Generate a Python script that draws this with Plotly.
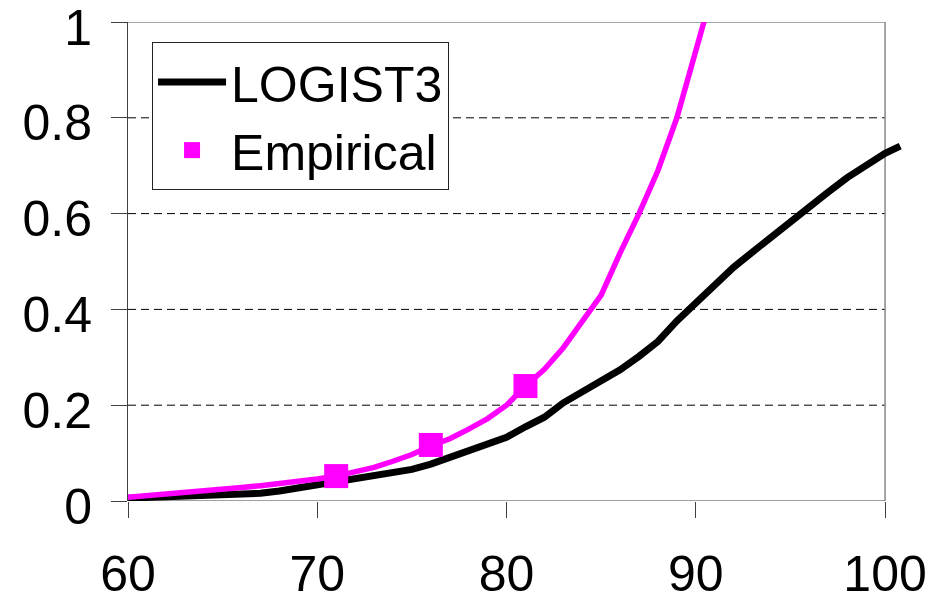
import plotly.graph_objects as go

# ---- data ----
age = [60, 61, 62, 63, 64, 65, 66, 67, 68, 69, 70, 71, 72, 73, 74, 75, 76, 77, 78, 79,
       80, 81, 82, 83, 84, 85, 86, 87, 88, 89, 90, 91, 92, 93, 94, 95, 96, 97, 98, 99,
       100, 100.8]
logist3 = [0.006, 0.007, 0.008, 0.010, 0.012, 0.013, 0.014, 0.016, 0.021, 0.027,
           0.033, 0.040, 0.046, 0.051, 0.058, 0.066, 0.077, 0.091, 0.104, 0.118,
           0.133, 0.155, 0.175, 0.205, 0.228, 0.250, 0.274, 0.302, 0.333, 0.376,
           0.415, 0.452, 0.488, 0.520, 0.552, 0.580, 0.612, 0.645, 0.675, 0.700,
           0.726, 0.741]

emp_curve_age = [60, 61, 62, 63, 64, 65, 66, 67, 68, 69, 70, 71, 72, 73, 74, 75, 76,
                 77, 78, 79, 80, 81, 82, 83, 84, 85, 86, 87, 88, 89, 90, 91]
emp_curve = [0.008, 0.011, 0.014, 0.018, 0.021, 0.025, 0.028, 0.032, 0.036, 0.041,
             0.046, 0.052, 0.060, 0.070, 0.083, 0.097, 0.115, 0.130, 0.150, 0.172,
             0.200, 0.240, 0.275, 0.320, 0.375, 0.430, 0.518, 0.600, 0.690, 0.800,
             0.940, 1.080]

emp_age = [71, 76, 81]
emp_val = [0.052, 0.117, 0.240]

x_ticks = [60, 70, 80, 90, 100]
y_ticks = [0, 0.2, 0.4, 0.6, 0.8, 1]
y_tick_text = ["0", "0.2", "0.4", "0.6", "0.8", "1"]
grid_levels = [0.2, 0.4, 0.6, 0.8]

FONT = "Liberation Sans, Arial, sans-serif"
MAGENTA = "#FF00FF"
FS = 50

fig = go.Figure()

fig.add_trace(go.Scatter(
    x=age, y=logist3, mode="lines", name="LOGIST3",
    line=dict(color="black", width=7), showlegend=True,
))
fig.add_trace(go.Scatter(
    x=emp_curve_age, y=emp_curve, mode="lines", name="fit",
    line=dict(color=MAGENTA, width=5.5), showlegend=False,
))
fig.add_trace(go.Scatter(
    x=emp_age, y=emp_val, mode="markers", name="Empirical",
    marker=dict(color=MAGENTA, size=24, symbol="square", line=dict(width=0)),
    showlegend=True,
))

shapes = []
for g in grid_levels:
    shapes.append(dict(type="line", xref="x", yref="y", x0=60, x1=100, y0=g, y1=g,
                       line=dict(color="#000000", width=1, dash="8px,5px"), layer="below"))
# plot frame: top & right grey, bottom dark
shapes.append(dict(type="line", xref="x", yref="y", x0=60, x1=100, y0=1, y1=1,
                   line=dict(color="#888888", width=1.5), layer="below"))
shapes.append(dict(type="line", xref="x", yref="y", x0=100, x1=100, y0=0, y1=1,
                   line=dict(color="#888888", width=1.5), layer="below"))
shapes.append(dict(type="line", xref="x", yref="y", x0=60, x1=100, y0=0, y1=0,
                   line=dict(color="#404040", width=1), layer="below"))

# the page body has an 8px default margin; size the figure so the plot area
# lands where it is in the reference
fig.update_layout(
    width=941, height=598,
    margin=dict(l=120, r=45, t=14, b=105, autoexpand=False),
    paper_bgcolor="white", plot_bgcolor="white",
    font=dict(family=FONT, size=FS, color="black"),
    shapes=shapes,
    legend=dict(
        x=0.031, y=0.958, xanchor="left", yanchor="top",
        bgcolor="white", bordercolor="#222222", borderwidth=1,
        font=dict(family=FONT, size=FS, color="black"),
        itemsizing="trace", itemwidth=68,
    ),
    xaxis=dict(
        range=[60, 101], tickvals=x_ticks, ticktext=[str(v) for v in x_ticks],
        showgrid=False, zeroline=False, showline=False, automargin=False,
        ticks="outside", ticklen=16, tickcolor="#404040", tickwidth=1,
        ticklabelstandoff=13, ticklabeloverflow="allow",
        tickfont=dict(family=FONT, size=FS, color="black"),
    ),
    yaxis=dict(
        range=[0, 1], tickvals=y_ticks, ticktext=y_tick_text, automargin=False,
        showgrid=False, zeroline=False, showline=True, linecolor="#404040", linewidth=1,
        ticks="outside", ticklen=16, tickcolor="#404040", tickwidth=1,
        ticklabelstandoff=9, ticklabelshift=5, ticklabeloverflow="allow",
        tickfont=dict(family=FONT, size=FS, color="black"),
    ),
)

fig.write_html("out.html")
